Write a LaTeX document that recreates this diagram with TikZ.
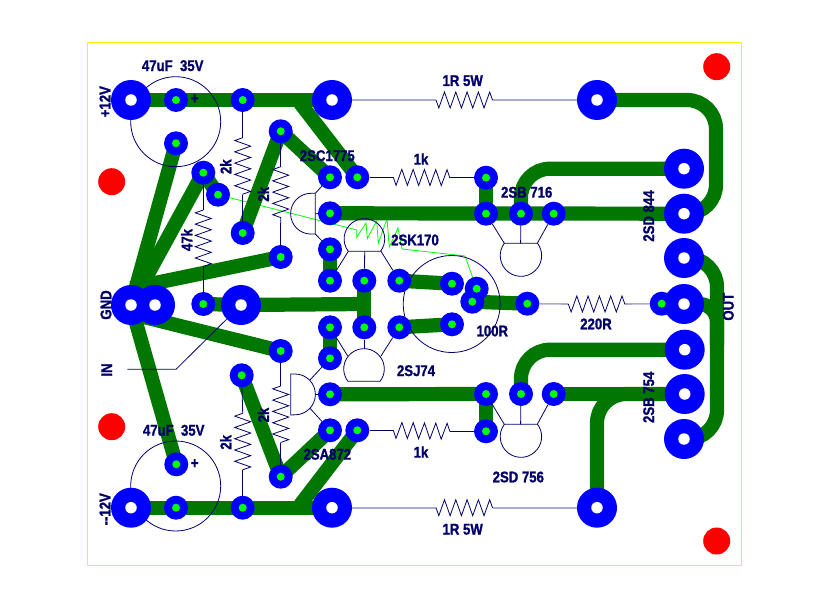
\documentclass[tikz,border=0pt]{standalone}
\usepackage{fontspec}
\usepackage{tikz}
\usetikzlibrary{decorations.pathmorphing}
\newfontfamily\pcbfont[FakeStretch=0.85,BoldFeatures={FakeStretch=0.85,FakeBold=1.2}]{Liberation Sans}
\definecolor{pcbnavy}{HTML}{000066}
\definecolor{pcbtrack}{HTML}{007700}
\definecolor{pcbpale}{HTML}{A9ACCF}
\pgfdeclarelayer{jumper}
\pgfdeclarelayer{tracks}
\pgfdeclarelayer{wires}
\pgfsetlayers{jumper,tracks,wires,main}
\tikzset{
	track/.style = {line width=14.2pt, color=pcbtrack},
	wire/.style = {line width=0.8pt, color=pcbnavy},
	pale/.style = {line width=1.6pt, color=pcbpale},
	zig/.style = {wire, decorate, decoration={zigzag, mirror, segment length=11.3pt, amplitude=8pt}},
	bigpad/.style = {circle, fill=blue, inner sep=0pt, minimum size=40pt},
	smallpad/.style = {circle, fill=blue, inner sep=0pt, minimum size=24pt},
	bighole/.style = {circle, fill=white, inner sep=0pt, minimum size=11.5pt},
	smallhole/.style = {circle, fill=green, inner sep=0pt, minimum size=8pt},
	fixhole/.style = {circle, fill=red, inner sep=0pt, minimum size=27pt},
	lbl/.style = {text=pcbnavy, inner sep=0pt, font=\pcbfont\bfseries\fontsize{15.5}{15.5}\selectfont},
	rlbl/.style = {lbl, rotate=90}
}
\begin{document}
\begin{tikzpicture}[x=1pt, y=-1pt]
	\useasboundingbox (0,0) rectangle (840,604);
	\draw[yellow, line width=0.9pt] (87.3,42.3) rectangle (741.7,565.3);

	\foreach \n/\x/\y in {c1/176/100, d1/242.7/100, c2/176/143.3, a1/280.7/131.3, b1/203.3/172.7, b2/218/194.7,
		e1/330/177.3, e2/357.3/177.3, e3/330/213.3, e4/330/249.3, f1/330/280.7, f2/364.3/280.7, f3/399.3/280.7,
		a2/242.7/233, a3/280.7/257, b3/203.3/304, k1/486/177.7, k2/486/213.7, k3/521/213.7, k4/553.7/213.7,
		t1/452/283.7, t2/476.7/288.7, t3/472.3/301.7, t4/452/324.3, m1/527.3/303.7, m2/661.7/303.7,
		h1/330/327.3, h2/364.3/327.3, h3/399.3/327.3, a4/280.7/351, h4/330/358.3, a5/241.7/375.3,
		j1/330/394.3, j2/330/430.3, j3/357.3/430.3, c3/176.3/464.3, a6/280.7/476.7, c4/176/507.7, d2/242.7/507.7,
		l1/486/394, l2/521/394, l3/553.7/394, l4/486/431.3} {
		\node[smallpad] (\n) at (\x,\y) {};
	}
	\foreach \n/\x/\y in {vp/131/100, rt1/332/100, rt2/597/100, q1/684/168.7, q2/684/213.7, o1/684/258, o2/684/304,
		q3/684.7/349.7, q4/684.7/394, o3/684/439, rb2/597/507.7, vn/131/507.7, rb1/332/507.7,
		g1/131/305, g2/155/305, g3/241/305} {
		\node[bigpad] (\n) at (\x,\y) {};
	}
	\foreach \n in {c1,d1,c2,a1,b1,b2,e1,e2,e3,e4,f1,f2,f3,a2,a3,b3,k1,k2,k3,k4,t1,t2,t3,t4,m1,m2,
		h1,h2,h3,a4,h4,a5,j1,j2,j3,c3,a6,c4,d2,l1,l2,l3,l4} {
		\node[smallhole] (\n h) at (\n) {};
	}
	\foreach \n in {vp,rt1,rt2,q1,q2,o1,o2,q3,q4,o3,rb2,vn,rb1,g1,g2,g3} {
		\node[bighole] (\n h) at (\n) {};
	}
	\node[fixhole] (fix1) at (111.7,181.7) {};
	\node[fixhole] (fix2) at (716.7,66.7) {};
	\node[fixhole] (fix3) at (111.7,426.7) {};
	\node[fixhole] (fix4) at (716.7,541) {};

	\foreach \n/\x/\y in {gk/364.3/304, jt/300/103, jb/300/505, gt/131/288, gb/140/316,
		s1/356.7/237.3, s2/366/223, s3/367.3/238.5, s4/376.7/221, s5/378.3/243.3,
		s6/387/219, s7/389.3/247, s8/398/228, s9/402/249, s10/465/256,
		r1a/436/100, r1b/492.7/100, r2a/436/507.7, r2b/492.7/507.7,
		r3a/393.3/177.3, r3b/450/177.7, r4a/393.3/430.3, r4b/450/431.3, r5a/568.3/304, r5b/626/304,
		r6a/242.7/137.7, r6b/242.7/194.7, r7a/280.7/166.7, r7b/280.7/223, r8a/203.3/210, r8b/203.3/266.7,
		r9a/280.7/386, r9b/280.7/442.7, r10a/242.7/413.3, r10b/242.7/470,
		t1a/315.3/193.3, t1b/315.3/213.7, t1c/315.3/234,
		t2a/348.3/251.3, t2b/364.7/251.3, t2c/381/251.3,
		t3a/347.7/356, t3b/364.3/348.7, t3c/381/356,
		t4a/310/380, t4b/315.3/394.3, t4c/310/408.3,
		t5a/504.3/243.3, t5b/520.6/243.3, t5c/537.3/243.3,
		t6a/504.3/424.3, t6b/520.6/424.3, t6c/537.3/424.3,
		in1/127.3/369.3, in2/176/369.3} {
		\coordinate (\n) at (\x,\y);
	}

	\begin{pgfonlayer}{jumper}
		\draw[green, line width=0.8pt] (b2.center) -- (356.7,230) -- (s1) -- (s2) -- (s3) -- (s4) -- (s5)
			-- (s6) -- (s7) -- (s8) -- (s9) -- (s10) -- (t2.center);
	\end{pgfonlayer}

	\begin{pgfonlayer}{tracks}
		\foreach \a/\b in {vp/rt1, jt/e2, c2/g1, b1/g1, b2/b1, a3/gt, gb/a4, g3/b3, g3/gk, f2/h2, c3/g1,
			a5/a6, a6/j2, j3/jb, vn/rb1, e3/q2, k1/k2, e1/a1, a1/a2, e4/f1, h1/h4,
			f3/t1, h3/t4, t3/t2, t3/m1, j1/l1, l3/q4, l1/l4} {
			\draw[track] (\a.center) -- (\b.center);
		}
		\begin{scope}[rounded corners=29pt]
			\draw[track] (k3.center) |- (q1.center);
			\draw[track] (l2.center) |- (q3.center);
			\draw[track] (rt2.center) -- (716,100) -- (716,213.7) -- (q2.center);
			\draw[track] (o1.center) -- (717,258) -- (717,439) -- (o3.center);
			\draw[track] (rb2.center) |- (q4.center);
		\end{scope}
		\draw[track, rounded corners=18pt] (o2.center) -- (717,304) -- (717,345);
	\end{pgfonlayer}

	\begin{pgfonlayer}{wires}
		\foreach \a/\b in {rt1/r1a, r1b/rt2, rb1/r2a, r2b/rb2, m1/r5a, r5b/m2} {
			\draw[pale] (\a) -- (\b);
		}
		\foreach \a/\b in {e2/r3a, r3b/k1, j3/r4a, r4b/l4, d1/r6a, r6b/a2, a1/r7a, r7b/a3, b1/r8a, r8b/b3,
			a4/r9a, r9b/a6, a5/r10a, r10b/d2, t1a/e1, t1b/e3, t1c/e4, t2a/f1, t2b/f2, t2c/f3,
			t3a/h1, t3b/h2, t3c/h3, t4a/h4, t4b/j1, t4c/j2, t5a/k2, t5b/k3, t5c/k4, t6a/l1, t6b/l2, t6c/l3} {
			\draw[wire] (\a) -- (\b);
		}
		\foreach \a/\b in {r1a/r1b, r2a/r2b, r3a/r3b, r4a/r4b, r5a/r5b, r6a/r6b, r7a/r7b, r8a/r8b, r9a/r9b, r10a/r10b} {
			\draw[zig] (\a) -- (\b);
		}
		\draw[wire] (175.7,121.7) circle[radius=45pt];
		\draw[wire] (175.7,486) circle[radius=45pt];
		\draw[wire] (451.7,304) circle[radius=48.5pt];
		\draw[wire] (t1a) -- (311,193.3) arc[start angle=90, end angle=270, radius=20.4pt] -- (t1c) -- cycle;
		\draw[wire] (t2a) arc[start angle=217.5, end angle=-37.5, radius=20.3pt] -- cycle;
		\draw[wire] (347.9,381.3) arc[start angle=217.5, end angle=-37.5, radius=20.3pt] -- cycle;
		\draw[wire] (290.7,374) -- (295,374) arc[start angle=90, end angle=-90, radius=20.4pt] -- (290.7,415) -- cycle;
		\draw[wire] (t5a) arc[start angle=143.4, end angle=396.6, radius=20.7pt] -- cycle;
		\draw[wire] (t6a) arc[start angle=143.4, end angle=396.6, radius=20.7pt] -- cycle;
		\draw[wire] (in1) -- (in2) -- (g3);
	\end{pgfonlayer}

	\node[lbl] (capt) at (172.7,65.7) {47uF\ \ 35V};
	\node[lbl] (capb) at (173.7,430.3) {47uF\ \ 35V};
	\node[lbl] (plust) at (194.7,99) {+};
	\node[lbl] (plusb) at (194.7,463.7) {+};
	\node[rlbl] (lvp) at (105,101.7) {+12V};
	\node[rlbl] (lgnd) at (106,305) {GND};
	\node[rlbl] (lin) at (106.7,370) {IN};
	\node[rlbl] (lvn) at (105,509.3) {--12V};
	\node[rlbl] (lr6) at (225.7,166.7) {2k};
	\node[rlbl] (lr7) at (263.3,194.3) {2k};
	\node[rlbl] (lr8) at (186.7,240) {47k};
	\node[rlbl] (lr9) at (263.3,415) {2k};
	\node[rlbl] (lr10) at (225.7,442.3) {2k};
	\node[lbl] (lt1) at (327.3,155.7) {2SC1775};
	\node[lbl] (lt2) at (415,240) {2SK170};
	\node[lbl] (lt3) at (416,370.7) {2SJ74};
	\node[lbl] (lt4) at (327.3,454.3) {2SA872};
	\node[lbl] (lt5) at (526.7,192.3) {2SB 716};
	\node[lbl] (lt6) at (518.3,477) {2SD 756};
	\node[rlbl] (lq1) at (648.7,216) {2SD 844};
	\node[rlbl] (lq2) at (648.7,397.3) {2SB 754};
	\node[rlbl] (lout) at (728.3,306.7) {OUT};
	\node[lbl] (lr1) at (462.7,80.7) {1R 5W};
	\node[lbl] (lr2) at (462.7,529.3) {1R 5W};
	\node[lbl] (lr3) at (421,159) {1k};
	\node[lbl] (lr4) at (421,452) {1k};
	\node[lbl] (lr5) at (596,324) {220R};
	\node[lbl] (lpot) at (492.3,331) {100R};
\end{tikzpicture}
\end{document}
